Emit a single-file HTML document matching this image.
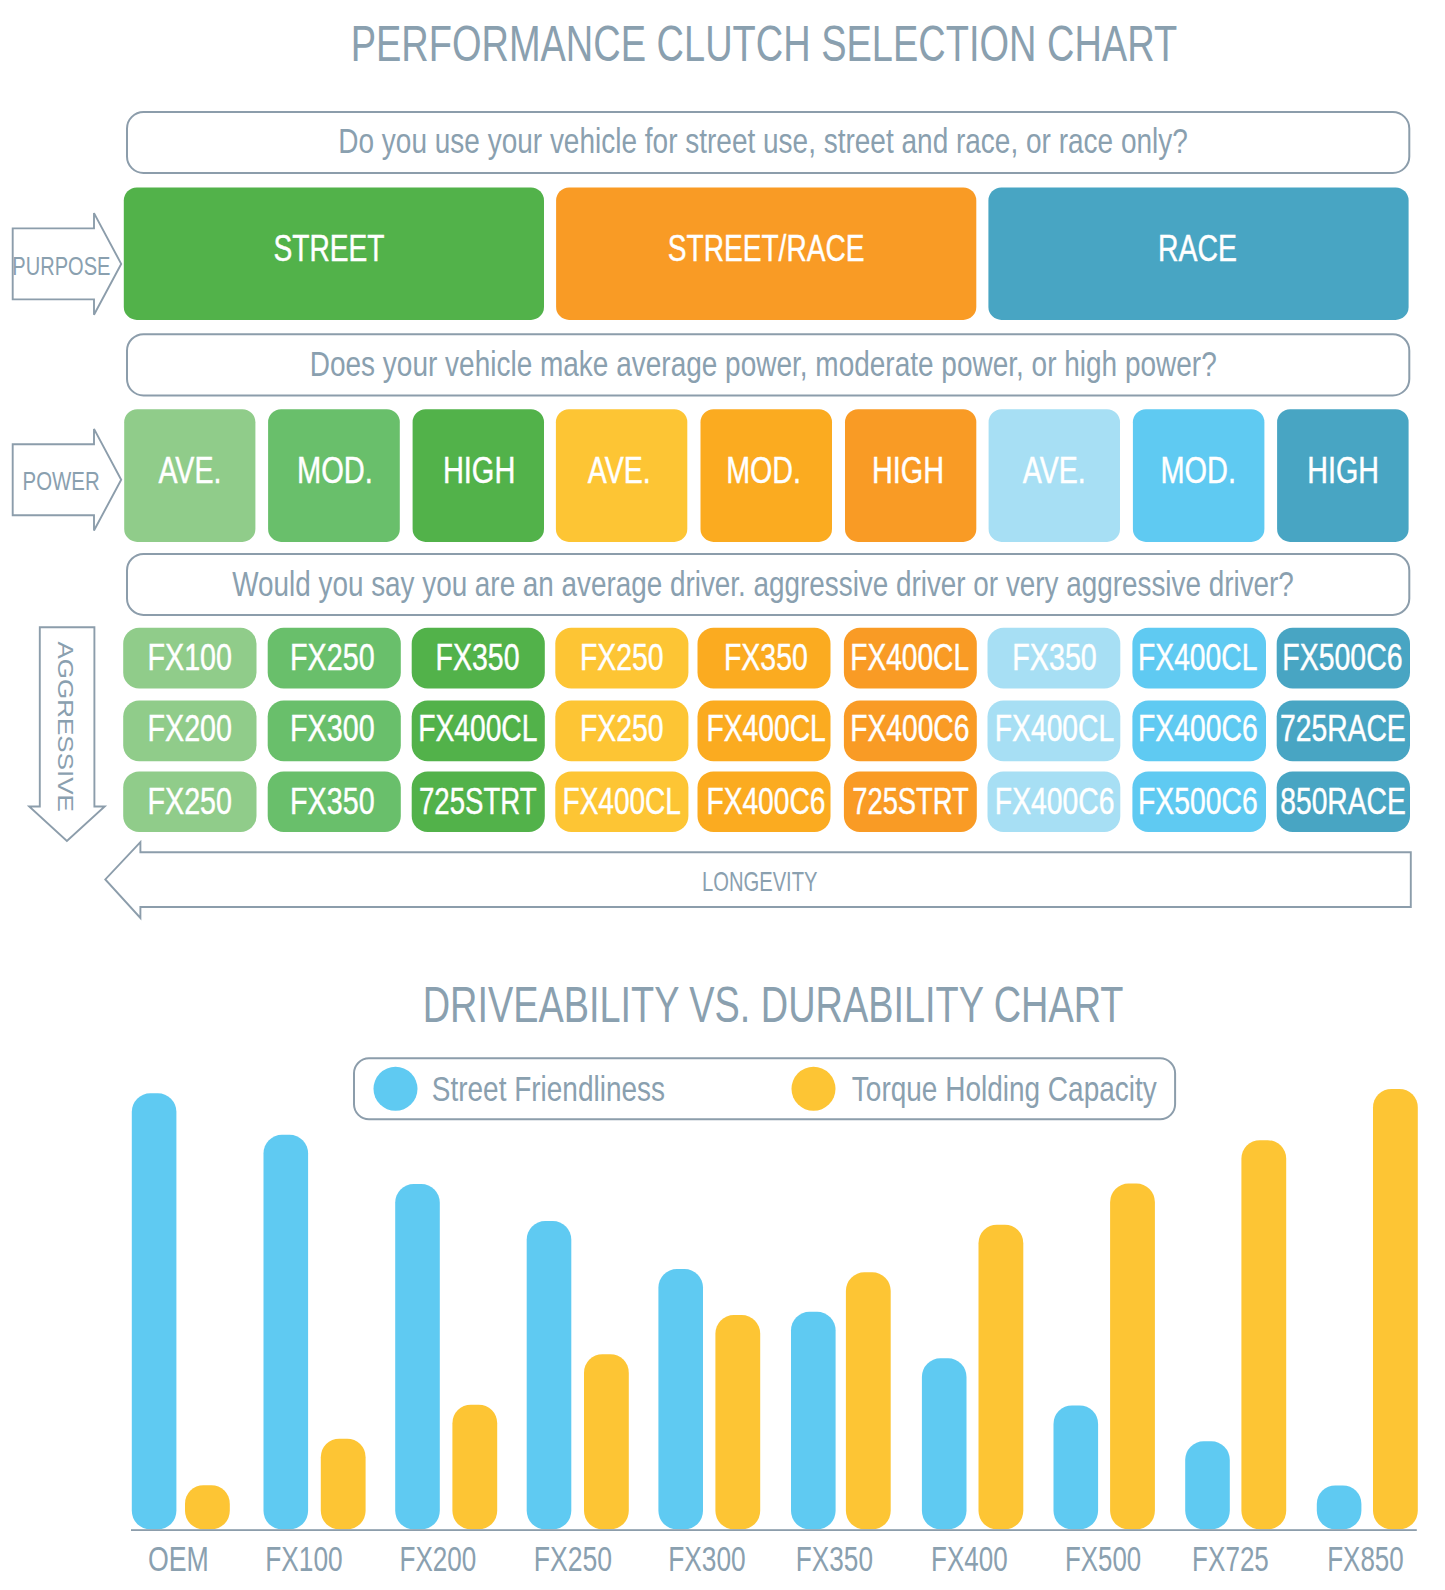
<!DOCTYPE html>
<html lang="en"><head><meta charset="utf-8"><title>Performance Clutch Selection Chart</title>
<style>
html,body{margin:0;padding:0;background:#ffffff;}
body{width:1445px;height:1590px;overflow:hidden;}
svg{display:block;font-family:"Liberation Sans",Arial,Helvetica,sans-serif;}
</style></head><body>
<svg width="1445" height="1590" viewBox="0 0 1445 1590">
<rect width="1445" height="1590" fill="#ffffff"/>
<!-- titles -->
<text transform="translate(350.66,61.00) scale(0.7477,1)" font-size="50.8" fill="#8aa0af">PERFORMANCE CLUTCH SELECTION CHART</text>
<text transform="translate(422.77,1021.60) scale(0.7455,1)" font-size="50.8" fill="#8aa0af">DRIVEABILITY VS. DURABILITY CHART</text>
<!-- questions -->
<rect x="127.00" y="112.00" width="1282.30" height="61.00" rx="16.5" ry="16.5" fill="#ffffff" stroke="#8c9dab" stroke-width="2.0"/>
<text transform="translate(338.26,152.50) scale(0.7910,1)" font-size="35.4" fill="#8aa0af">Do you use your vehicle for street use, street and race, or race only?</text>
<rect x="127.00" y="334.20" width="1282.30" height="61.30" rx="16.5" ry="16.5" fill="#ffffff" stroke="#8c9dab" stroke-width="2.0"/>
<text transform="translate(309.76,375.80) scale(0.7907,1)" font-size="35.4" fill="#8aa0af">Does your vehicle make average power, moderate power, or high power?</text>
<rect x="127.00" y="553.90" width="1282.30" height="61.00" rx="16.5" ry="16.5" fill="#ffffff" stroke="#8c9dab" stroke-width="2.0"/>
<text transform="translate(232.30,595.50) scale(0.7871,1)" font-size="35.4" fill="#8aa0af">Would you say you are an average driver. aggressive driver or very aggressive driver?</text>
<!-- purpose row -->
<rect x="123.80" y="187.40" width="420.20" height="132.50" rx="13" ry="13" fill="#52b24a"/>
<text transform="translate(273.43,261.20) scale(0.7494,1)" font-size="37.6" fill="#ffffff" stroke="#ffffff" stroke-width="0.45">STREET</text>
<rect x="556.10" y="187.40" width="420.20" height="132.50" rx="13" ry="13" fill="#f99b25"/>
<text transform="translate(667.84,261.20) scale(0.7470,1)" font-size="37.6" fill="#ffffff" stroke="#ffffff" stroke-width="0.45">STREET/RACE</text>
<rect x="988.40" y="187.40" width="420.20" height="132.50" rx="13" ry="13" fill="#48a5c3"/>
<text transform="translate(1157.93,261.20) scale(0.7559,1)" font-size="37.6" fill="#ffffff" stroke="#ffffff" stroke-width="0.45">RACE</text>
<!-- power row -->
<rect x="124.20" y="409.20" width="131.20" height="132.70" rx="13" ry="13" fill="#90cc8a"/>
<text transform="translate(158.40,482.70) scale(0.7852,1)" font-size="36.4" fill="#ffffff" stroke="#ffffff" stroke-width="0.45">AVE.</text>
<rect x="268.10" y="409.20" width="131.70" height="132.70" rx="13" ry="13" fill="#69bf6b"/>
<text transform="translate(297.07,482.70) scale(0.7984,1)" font-size="36.4" fill="#ffffff" stroke="#ffffff" stroke-width="0.45">MOD.</text>
<rect x="412.60" y="409.20" width="131.40" height="132.70" rx="13" ry="13" fill="#52b24a"/>
<text transform="translate(442.88,482.70) scale(0.7962,1)" font-size="36.4" fill="#ffffff" stroke="#ffffff" stroke-width="0.45">HIGH</text>
<rect x="555.90" y="409.20" width="131.40" height="132.70" rx="13" ry="13" fill="#fdc534"/>
<text transform="translate(587.80,482.70) scale(0.7839,1)" font-size="36.4" fill="#ffffff" stroke="#ffffff" stroke-width="0.45">AVE.</text>
<rect x="700.50" y="409.20" width="131.50" height="132.70" rx="13" ry="13" fill="#fbab20"/>
<text transform="translate(726.21,482.70) scale(0.7872,1)" font-size="36.4" fill="#ffffff" stroke="#ffffff" stroke-width="0.45">MOD.</text>
<rect x="845.00" y="409.20" width="131.30" height="132.70" rx="13" ry="13" fill="#f99b25"/>
<text transform="translate(872.00,482.70) scale(0.7915,1)" font-size="36.4" fill="#ffffff" stroke="#ffffff" stroke-width="0.45">HIGH</text>
<rect x="988.60" y="409.20" width="131.40" height="132.70" rx="13" ry="13" fill="#a7dff4"/>
<text transform="translate(1022.80,482.70) scale(0.7839,1)" font-size="36.4" fill="#ffffff" stroke="#ffffff" stroke-width="0.45">AVE.</text>
<rect x="1132.90" y="409.20" width="131.50" height="132.70" rx="13" ry="13" fill="#5fcaf2"/>
<text transform="translate(1160.48,482.70) scale(0.7950,1)" font-size="36.4" fill="#ffffff" stroke="#ffffff" stroke-width="0.45">MOD.</text>
<rect x="1277.10" y="409.20" width="131.50" height="132.70" rx="13" ry="13" fill="#48a5c3"/>
<text transform="translate(1307.21,482.70) scale(0.7880,1)" font-size="36.4" fill="#ffffff" stroke="#ffffff" stroke-width="0.45">HIGH</text>
<!-- product grid -->
<rect x="123.20" y="627.80" width="133.30" height="60.60" rx="16" ry="16" fill="#90cc8a"/>
<text transform="translate(147.50,670.10) scale(0.7882,1)" font-size="36.4" fill="#ffffff" stroke="#ffffff" stroke-width="0.45">FX100</text>
<rect x="267.70" y="627.80" width="133.10" height="60.60" rx="16" ry="16" fill="#69bf6b"/>
<text transform="translate(290.10,670.10) scale(0.7882,1)" font-size="36.4" fill="#ffffff" stroke="#ffffff" stroke-width="0.45">FX250</text>
<rect x="411.70" y="627.80" width="133.10" height="60.60" rx="16" ry="16" fill="#52b24a"/>
<text transform="translate(435.62,670.10) scale(0.7824,1)" font-size="36.4" fill="#ffffff" stroke="#ffffff" stroke-width="0.45">FX350</text>
<rect x="555.30" y="627.80" width="133.10" height="60.60" rx="16" ry="16" fill="#fdc534"/>
<text transform="translate(580.03,670.10) scale(0.7795,1)" font-size="36.4" fill="#ffffff" stroke="#ffffff" stroke-width="0.45">FX250</text>
<rect x="697.50" y="627.80" width="133.00" height="60.60" rx="16" ry="16" fill="#fbab20"/>
<text transform="translate(723.92,670.10) scale(0.7824,1)" font-size="36.4" fill="#ffffff" stroke="#ffffff" stroke-width="0.45">FX350</text>
<rect x="843.90" y="627.80" width="132.90" height="60.60" rx="16" ry="16" fill="#f99b25"/>
<text transform="translate(850.35,670.10) scale(0.7721,1)" font-size="36.4" fill="#ffffff" stroke="#ffffff" stroke-width="0.45">FX400CL</text>
<rect x="987.50" y="627.80" width="132.80" height="60.60" rx="16" ry="16" fill="#a7dff4"/>
<text transform="translate(1012.30,670.10) scale(0.7882,1)" font-size="36.4" fill="#ffffff" stroke="#ffffff" stroke-width="0.45">FX350</text>
<rect x="1132.40" y="627.80" width="133.60" height="60.60" rx="16" ry="16" fill="#5fcaf2"/>
<text transform="translate(1138.04,670.10) scale(0.7761,1)" font-size="36.4" fill="#ffffff" stroke="#ffffff" stroke-width="0.45">FX400CL</text>
<rect x="1276.70" y="627.80" width="133.30" height="60.60" rx="16" ry="16" fill="#48a5c3"/>
<text transform="translate(1282.32,670.10) scale(0.7820,1)" font-size="36.4" fill="#ffffff" stroke="#ffffff" stroke-width="0.45">FX500C6</text>
<rect x="123.20" y="700.60" width="133.30" height="60.60" rx="16" ry="16" fill="#90cc8a"/>
<text transform="translate(147.50,741.20) scale(0.7882,1)" font-size="36.4" fill="#ffffff" stroke="#ffffff" stroke-width="0.45">FX200</text>
<rect x="267.70" y="700.60" width="133.10" height="60.60" rx="16" ry="16" fill="#69bf6b"/>
<text transform="translate(290.10,741.20) scale(0.7882,1)" font-size="36.4" fill="#ffffff" stroke="#ffffff" stroke-width="0.45">FX300</text>
<rect x="411.70" y="700.60" width="133.10" height="60.60" rx="16" ry="16" fill="#52b24a"/>
<text transform="translate(418.14,741.20) scale(0.7761,1)" font-size="36.4" fill="#ffffff" stroke="#ffffff" stroke-width="0.45">FX400CL</text>
<rect x="555.30" y="700.60" width="133.10" height="60.60" rx="16" ry="16" fill="#fdc534"/>
<text transform="translate(580.03,741.20) scale(0.7795,1)" font-size="36.4" fill="#ffffff" stroke="#ffffff" stroke-width="0.45">FX250</text>
<rect x="697.50" y="700.60" width="133.00" height="60.60" rx="16" ry="16" fill="#fbab20"/>
<text transform="translate(706.44,741.20) scale(0.7761,1)" font-size="36.4" fill="#ffffff" stroke="#ffffff" stroke-width="0.45">FX400CL</text>
<rect x="843.90" y="700.60" width="132.90" height="60.60" rx="16" ry="16" fill="#f99b25"/>
<text transform="translate(850.35,741.20) scale(0.7739,1)" font-size="36.4" fill="#ffffff" stroke="#ffffff" stroke-width="0.45">FX400C6</text>
<rect x="987.50" y="700.60" width="132.80" height="60.60" rx="16" ry="16" fill="#a7dff4"/>
<text transform="translate(994.84,741.20) scale(0.7761,1)" font-size="36.4" fill="#ffffff" stroke="#ffffff" stroke-width="0.45">FX400CL</text>
<rect x="1132.40" y="700.60" width="133.60" height="60.60" rx="16" ry="16" fill="#5fcaf2"/>
<text transform="translate(1138.03,741.20) scale(0.7780,1)" font-size="36.4" fill="#ffffff" stroke="#ffffff" stroke-width="0.45">FX400C6</text>
<rect x="1276.70" y="700.60" width="133.30" height="60.60" rx="16" ry="16" fill="#48a5c3"/>
<text transform="translate(1279.99,741.20) scale(0.7772,1)" font-size="36.4" fill="#ffffff" stroke="#ffffff" stroke-width="0.45">725RACE</text>
<rect x="123.20" y="771.40" width="133.30" height="60.60" rx="16" ry="16" fill="#90cc8a"/>
<text transform="translate(147.50,813.80) scale(0.7882,1)" font-size="36.4" fill="#ffffff" stroke="#ffffff" stroke-width="0.45">FX250</text>
<rect x="267.70" y="771.40" width="133.10" height="60.60" rx="16" ry="16" fill="#69bf6b"/>
<text transform="translate(290.10,813.80) scale(0.7882,1)" font-size="36.4" fill="#ffffff" stroke="#ffffff" stroke-width="0.45">FX350</text>
<rect x="411.70" y="771.40" width="133.10" height="60.60" rx="16" ry="16" fill="#52b24a"/>
<text transform="translate(419.02,813.80) scale(0.7579,1)" font-size="36.4" fill="#ffffff" stroke="#ffffff" stroke-width="0.45">725STRT</text>
<rect x="555.30" y="771.40" width="133.10" height="60.60" rx="16" ry="16" fill="#fdc534"/>
<text transform="translate(562.56,813.80) scale(0.7701,1)" font-size="36.4" fill="#ffffff" stroke="#ffffff" stroke-width="0.45">FX400CL</text>
<rect x="697.50" y="771.40" width="133.00" height="60.60" rx="16" ry="16" fill="#fbab20"/>
<text transform="translate(706.45,813.80) scale(0.7739,1)" font-size="36.4" fill="#ffffff" stroke="#ffffff" stroke-width="0.45">FX400C6</text>
<rect x="843.90" y="771.40" width="132.90" height="60.60" rx="16" ry="16" fill="#f99b25"/>
<text transform="translate(852.23,813.80) scale(0.7513,1)" font-size="36.4" fill="#ffffff" stroke="#ffffff" stroke-width="0.45">725STRT</text>
<rect x="987.50" y="771.40" width="132.80" height="60.60" rx="16" ry="16" fill="#a7dff4"/>
<text transform="translate(994.83,813.80) scale(0.7780,1)" font-size="36.4" fill="#ffffff" stroke="#ffffff" stroke-width="0.45">FX400C6</text>
<rect x="1132.40" y="771.40" width="133.60" height="60.60" rx="16" ry="16" fill="#5fcaf2"/>
<text transform="translate(1138.03,813.80) scale(0.7780,1)" font-size="36.4" fill="#ffffff" stroke="#ffffff" stroke-width="0.45">FX500C6</text>
<rect x="1276.70" y="771.40" width="133.30" height="60.60" rx="16" ry="16" fill="#48a5c3"/>
<text transform="translate(1280.27,813.80) scale(0.7754,1)" font-size="36.4" fill="#ffffff" stroke="#ffffff" stroke-width="0.45">850RACE</text>
<!-- arrows -->
<polygon points="12.7,228.4 94.0,228.4 94.0,213.1 121.2,263.9 94.0,314.7 94.0,299.4 12.7,299.4" fill="none" stroke="#8c9dab" stroke-width="1.9" stroke-linejoin="miter"/>
<text transform="translate(12.29,275.10) scale(0.7603,1)" font-size="26.4" fill="#8aa0af">PURPOSE</text>
<polygon points="12.7,444.2 94.0,444.2 94.0,428.9 121.2,479.7 94.0,530.5 94.0,515.2 12.7,515.2" fill="none" stroke="#8c9dab" stroke-width="1.9" stroke-linejoin="miter"/>
<text transform="translate(22.57,490.30) scale(0.7730,1)" font-size="26.4" fill="#8aa0af">POWER</text>
<polygon points="39.8,627.3 94.4,627.3 94.4,806.5 104.7,806.5 66.9,841.0 29.2,806.5 39.8,806.5" fill="none" stroke="#8c9dab" stroke-width="1.9" stroke-linejoin="miter"/>
<text transform="translate(57.6,641.50) rotate(90) scale(1.1711,1)" font-size="22.2" fill="#8aa0af">AGGRESSIVE</text>
<polygon points="1410.8,852.3 140.4,852.3 140.4,842.1 105.3,879.4 140.4,918.0 140.4,907.0 1410.8,907.0" fill="none" stroke="#8c9dab" stroke-width="1.9" stroke-linejoin="miter"/>
<text transform="translate(701.98,891.20) scale(0.7478,1)" font-size="27.0" fill="#8aa0af">LONGEVITY</text>
<!-- legend -->
<rect x="354.00" y="1058.30" width="821.10" height="61.00" rx="15" ry="15" fill="#ffffff" stroke="#8c9dab" stroke-width="2.0"/>
<circle cx="395.5" cy="1088.8" r="22" fill="#5fcaf2"/>
<circle cx="813.5" cy="1088.8" r="22" fill="#fdc534"/>
<text transform="translate(431.74,1101.00) scale(0.7862,1)" font-size="35.6" fill="#8aa0af">Street Friendliness</text>
<text transform="translate(851.84,1101.00) scale(0.7863,1)" font-size="35.6" fill="#8aa0af">Torque Holding Capacity</text>
<!-- bars -->
<rect x="131.80" y="1093.30" width="44.60" height="436.00" rx="18.5" ry="18.5" fill="#5fcaf2"/>
<rect x="263.50" y="1134.80" width="44.60" height="394.50" rx="18.5" ry="18.5" fill="#5fcaf2"/>
<rect x="395.20" y="1184.00" width="44.60" height="345.30" rx="18.5" ry="18.5" fill="#5fcaf2"/>
<rect x="526.70" y="1221.10" width="44.60" height="308.20" rx="18.5" ry="18.5" fill="#5fcaf2"/>
<rect x="658.40" y="1269.10" width="44.60" height="260.20" rx="18.5" ry="18.5" fill="#5fcaf2"/>
<rect x="791.00" y="1311.80" width="44.60" height="217.50" rx="18.5" ry="18.5" fill="#5fcaf2"/>
<rect x="921.90" y="1358.30" width="44.60" height="171.00" rx="18.5" ry="18.5" fill="#5fcaf2"/>
<rect x="1053.50" y="1405.40" width="44.60" height="123.90" rx="18.5" ry="18.5" fill="#5fcaf2"/>
<rect x="1185.20" y="1441.30" width="44.60" height="88.00" rx="18.5" ry="18.5" fill="#5fcaf2"/>
<rect x="1316.80" y="1485.40" width="44.60" height="43.90" rx="18.5" ry="18.5" fill="#5fcaf2"/>
<rect x="185.00" y="1485.20" width="44.80" height="44.10" rx="18.5" ry="18.5" fill="#fdc534"/>
<rect x="320.80" y="1438.70" width="44.80" height="90.60" rx="18.5" ry="18.5" fill="#fdc534"/>
<rect x="452.40" y="1404.70" width="44.80" height="124.60" rx="18.5" ry="18.5" fill="#fdc534"/>
<rect x="584.00" y="1354.20" width="44.80" height="175.10" rx="18.5" ry="18.5" fill="#fdc534"/>
<rect x="715.40" y="1315.00" width="44.80" height="214.30" rx="18.5" ry="18.5" fill="#fdc534"/>
<rect x="845.90" y="1272.30" width="44.80" height="257.00" rx="18.5" ry="18.5" fill="#fdc534"/>
<rect x="978.50" y="1224.70" width="44.80" height="304.60" rx="18.5" ry="18.5" fill="#fdc534"/>
<rect x="1110.10" y="1183.50" width="44.80" height="345.80" rx="18.5" ry="18.5" fill="#fdc534"/>
<rect x="1241.40" y="1140.20" width="44.80" height="389.10" rx="18.5" ry="18.5" fill="#fdc534"/>
<rect x="1373.00" y="1088.90" width="44.80" height="440.40" rx="18.5" ry="18.5" fill="#fdc534"/>
<rect x="131" y="1529.2" width="1285.8" height="1.8" fill="#8c9dab"/>
<text transform="translate(148.00,1571.40) scale(0.7594,1)" font-size="35.2" fill="#8aa0af">OEM</text>
<text transform="translate(265.20,1571.40) scale(0.7468,1)" font-size="35.2" fill="#8aa0af">FX100</text>
<text transform="translate(399.51,1571.40) scale(0.7408,1)" font-size="35.2" fill="#8aa0af">FX200</text>
<text transform="translate(533.67,1571.40) scale(0.7569,1)" font-size="35.2" fill="#8aa0af">FX250</text>
<text transform="translate(668.30,1571.40) scale(0.7468,1)" font-size="35.2" fill="#8aa0af">FX300</text>
<text transform="translate(795.81,1571.40) scale(0.7438,1)" font-size="35.2" fill="#8aa0af">FX350</text>
<text transform="translate(931.12,1571.40) scale(0.7388,1)" font-size="35.2" fill="#8aa0af">FX400</text>
<text transform="translate(1065.03,1571.40) scale(0.7348,1)" font-size="35.2" fill="#8aa0af">FX500</text>
<text transform="translate(1192.12,1571.40) scale(0.7401,1)" font-size="35.2" fill="#8aa0af">FX725</text>
<text transform="translate(1327.22,1571.40) scale(0.7378,1)" font-size="35.2" fill="#8aa0af">FX850</text>
</svg>
</body></html>
